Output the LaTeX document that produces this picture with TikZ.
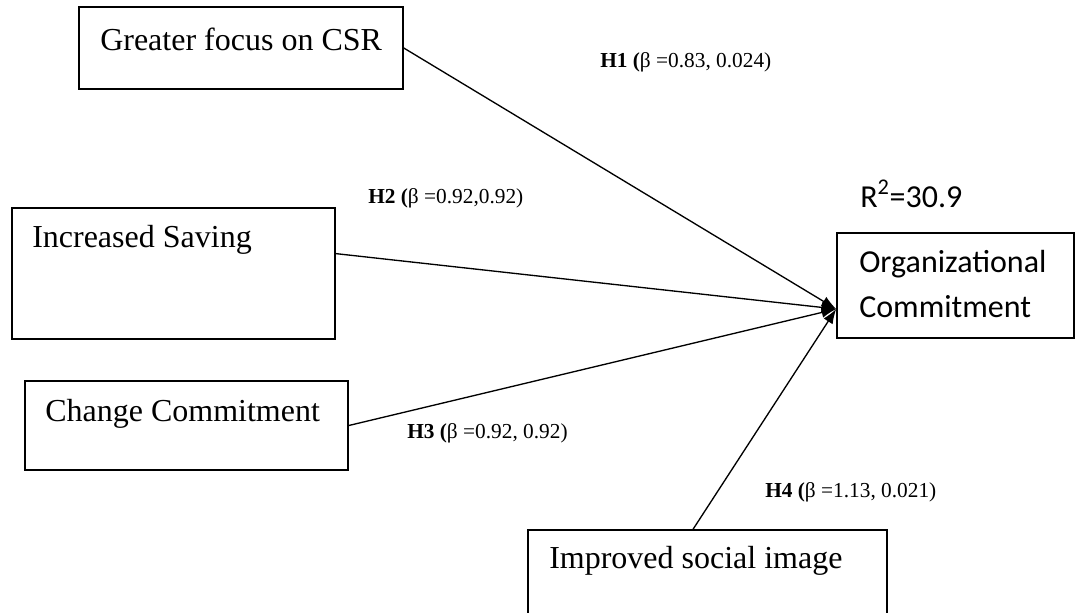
\documentclass[tikz,border=0pt]{standalone}
\usepackage{fontspec}
\setmainfont{Liberation Serif}
\newfontfamily\carlito{Carlito}
\usetikzlibrary{arrows.meta,calc}

\tikzset{
  varbox/.style={draw, line width=1.2pt, inner sep=0pt},
  boxtext/.style={anchor=base west, inner sep=0pt, font=\fontsize{24}{28}\selectfont},
  sanstext/.style={boxtext, font=\carlito\fontsize{24}{33.75}\selectfont},
  hyp/.style={anchor=base west, inner sep=0pt, font=\fontsize{16}{19}\selectfont},
  link/.style={line width=1pt, -{Latex[length=11pt,width=8pt]}}
}

\begin{document}
\begin{tikzpicture}[x=0.75pt, y=-0.75pt]
        \useasboundingbox (0,0) rectangle (1076,612);

        % Predictor boxes
        \node[varbox, minimum width=243pt, minimum height=61.5pt] (csr) at (241,48) {};
        \node[varbox, minimum width=242.25pt, minimum height=98.25pt] (save) at (173.5,273.5) {};
        \node[varbox, minimum width=242.25pt, minimum height=66.75pt] (change) at (186.5,425.5) {};
        \node[varbox, minimum width=269.25pt, minimum height=82.5pt] (img) at (707.5,585) {};

        % Outcome box
        \node[varbox, minimum width=177.75pt, minimum height=78.75pt] (org) at (955.5,285.5) {};

        % Texts in the boxes
        \node[boxtext] (csrtext) at (100,50) {Greater focus on CSR};
        \node[boxtext] (savetext) at (32,247) {Increased Saving};
        \node[boxtext] (changetext) at (45,421) {Change Commitment};
        \node[boxtext] (imgtext) at (549,568) {Improved social image};
        \node[sanstext] (orgtext1) at (859,272) {Organizational};
        \node[sanstext] (orgtext2) at (859,317) {Commitment};
        \node[sanstext] (rsq) at (860,207) {R\textsuperscript{2}=30.9};

        % Paths to the outcome
        \coordinate (hub) at ($(org.west)+(0,23.5)$);
        \draw[link] (csr.east) -- (hub);
        \draw[link] ($(save.north east)!0.35!(save.south east)$) -- (hub);
        \draw[link] (change.east) -- (hub);
        \draw[link] ($(img.north west)!0.46!(img.north east)$) -- (hub);

        % Hypothesis labels
        \node[hyp] (h1) at (600,67) {\textbf{H1 (}β =0.83, 0.024)};
        \node[hyp] (h2) at (368,203) {\textbf{H2 (}β =0.92,0.92)};
        \node[hyp] (h3) at (407,438) {\textbf{H3 (}β =0.92, 0.92)};
        \node[hyp] (h4) at (765,497) {\textbf{H4 (}β =1.13, 0.021)};

\end{tikzpicture}
\end{document}
